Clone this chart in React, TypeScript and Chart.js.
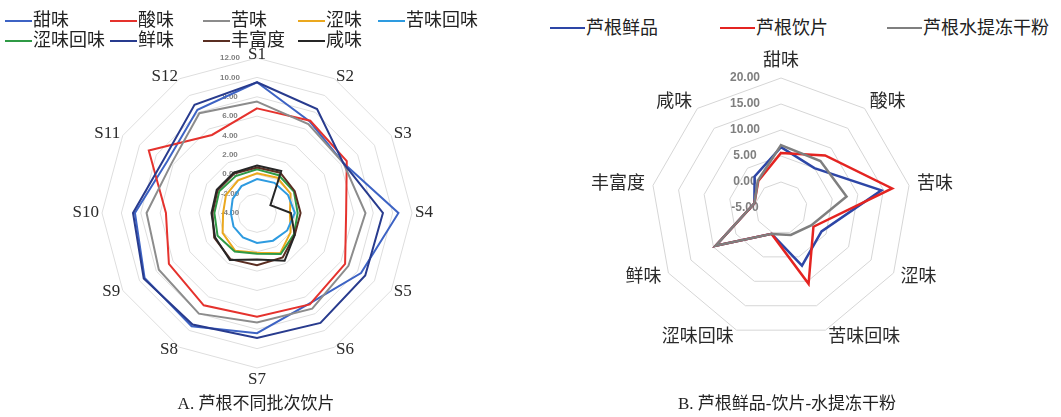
import React, { useEffect, useRef } from 'react';
import { Chart, registerables } from 'chart.js';

Chart.register(...registerables);

// ---------- Panel A: 芦根不同批次饮片 ----------
const batches = ['S1', 'S2', 'S3', 'S4', 'S5', 'S6', 'S7', 'S8', 'S9', 'S10', 'S11', 'S12'];
const tasteNames = ['甜味', '酸味', '苦味', '涩味', '苦味回味', '涩味回味', '鲜味', '丰富度', '咸味'];
const sweetA = [9.5, 6.9, 6.3, 10.6, 8.4, 6.8, 8.4, 9.5, 9.4, 8.6, 6.7, 8.3];
const sourA = [6.8, 7.0, 6.7, 5.2, 6.5, 6.9, 6.7, 7.0, 6.5, 5.4, 8.9, 5.3];
const bitterA = [7.5, 6.6, 6.3, 7.2, 6.9, 7.4, 7.3, 8.0, 7.7, 7.4, 6.2, 7.9];
const astringentA = [0.1, 0.2, 0.0, -0.6, 0.0, 0.8, 0.1, 0.5, 0.1, -0.5, -0.3, -0.1];
const bitterAfterA = [-0.5, -0.4, -0.3, -0.1, -0.4, -0.7, -0.9, -1.1, -1.2, -1.3, -1.1, -0.8];
const astringentAfterA = [0.5, 0.5, 0.4, 0.2, 0.4, 0.9, 0.2, 0.6, 0.7, 0.4, 0.5, 0.4];
const umamiA = [9.5, 8.4, 6.3, 9.0, 8.9, 9.1, 8.9, 9.3, 9.5, 8.8, 7.1, 8.9];
const richnessA = [0.7, 0.8, 0.5, 0.5, 0.5, 1.3, 1.4, 1.5, 1.1, 0.6, 0.7, 0.7];
const saltyA = [0.9, 1.0, -2.4, -0.5, 0.5, 1.7, 0.8, 1.6, 1.0, 0.7, 0.8, 0.8];
const ticksA = [-4, -2, 0, 2, 4, 6, 8, 10, 12];
const captionA = 'A. 芦根不同批次饮片';

// ---------- Panel B: 芦根鲜品-饮片-水提冻干粉 ----------
const tasteAxesB = ['甜味', '酸味', '苦味', '涩味', '苦味回味', '涩味回味', '鲜味', '丰富度', '咸味'];
const productNames = ['芦根鲜品', '芦根饮片', '芦根水提冻干粉'];
const freshB = [6.7, 5.0, 14.6, 4.0, 6.8, 0.3, 9.5, 0.2, 2.9];
const sliceB = [5.6, 8.2, 16.7, 2.2, 10.5, 0.3, 9.5, 0.2, 1.8];
const powderB = [7.1, 6.8, 7.8, 1.7, 0.5, 0.3, 9.5, 0.2, 1.9];
const ticksB = [-5, 0, 5, 10, 15, 20];
const captionB = 'B. 芦根鲜品-饮片-水提冻干粉';

// ---------- styles ----------
const seriesA = [sweetA, sourA, bitterA, astringentA, bitterAfterA, astringentAfterA, umamiA, richnessA, saltyA];
const colorsA = ['#3D63C4', '#E5322D', '#8C8C8C', '#EBA81E', '#2E9BE0', '#2F9A45', '#283B8E', '#5A2E22', '#262626'];
const seriesB = [freshB, sliceB, powderB];
const colorsB = ['#2D46A6', '#E42421', '#7F7F7F'];

const SERIF = "'Liberation Serif', 'Noto Sans CJK SC', serif";

// value-axis labels drawn to the left of the vertical axis (Excel style)
const sideTicks = {
  id: 'sideTicks',
  beforeDatasetsDraw(chart: any, _args: any, opts: any) {
    const s = chart.scales.r;
    const ctx = chart.ctx;
    ctx.save();
    ctx.font = opts.font;
    ctx.fillStyle = opts.color;
    ctx.textAlign = 'center';
    ctx.textBaseline = 'middle';
    (opts.values as number[]).forEach((v) => {
      const d = s.getDistanceFromCenterForValue(v);
      ctx.fillText(v.toFixed(2), s.xCenter + opts.dx, s.yCenter - d);
    });
    ctx.restore();
  },
};

// category labels placed Excel-like around the outer ring
const excelPointLabels = {
  id: 'excelPointLabels',
  beforeDatasetsDraw(chart: any, _args: any, opts: any) {
    const s = chart.scales.r;
    const ctx = chart.ctx;
    ctx.save();
    ctx.font = opts.font;
    ctx.fillStyle = opts.color;
    (chart.data.labels as string[]).forEach((lab, i) => {
      const p = s.getPointPosition(i, s.drawingArea + opts.offset);
      const dx = p.x - s.xCenter;
      const dy = p.y - s.yCenter;
      if (Math.abs(dx) < 1) {
        ctx.textAlign = 'center';
        ctx.textBaseline = dy < 0 ? opts.topBaseline : 'top';
      } else {
        ctx.textAlign = dx > 0 ? 'left' : 'right';
        ctx.textBaseline = 'middle';
      }
      ctx.fillText(lab, p.x, p.y);
    });
    ctx.restore();
  },
};

function radarConfig(
  labels: string[],
  names: string[],
  series: number[][],
  colors: string[],
  min: number,
  max: number,
  step: number,
  tickVals: number[],
  width: number,
  pad: any,
  labelFont: string,
  labelOffset: number,
  topBaseline: string,
  tickFont: string,
  tickDx: number,
  gridColor: string
): any {
  return {
    type: 'radar',
    data: {
      labels,
      datasets: series.map((d, i) => ({
        label: names[i],
        data: d,
        borderColor: colors[i],
        backgroundColor: colors[i],
        borderWidth: width,
        pointRadius: 0,
        pointHoverRadius: 0,
        fill: false,
        order: series.length - i,
      })),
    },
    options: {
      responsive: false,
      animation: false,
      devicePixelRatio: 1,
      layout: { padding: pad },
      elements: { line: { tension: 0, borderJoinStyle: 'miter' } },
      plugins: {
        legend: { display: false },
        tooltip: { enabled: false },
        sideTicks: { values: tickVals, font: tickFont, color: '#7F7F7F', dx: tickDx },
        excelPointLabels: { font: labelFont, color: '#2A2A2A', offset: labelOffset, topBaseline },
      },
      scales: {
        r: {
          min,
          max,
          ticks: { stepSize: step, display: false },
          grid: { color: gridColor, lineWidth: 1 },
          angleLines: { display: false },
          pointLabels: { display: false },
        },
      },
    },
    plugins: [sideTicks, excelPointLabels],
  };
}

export default function App() {
  const aRef = useRef<HTMLCanvasElement>(null);
  const bRef = useRef<HTMLCanvasElement>(null);

  useEffect(() => {
    document.body.style.margin = '0';
    const a = new Chart(
      aRef.current as HTMLCanvasElement,
      radarConfig(batches, tasteNames, seriesA, colorsA, -4, 12, 2, ticksA, 2,
        { left: 82, right: 88, top: 18, bottom: 48 },
        `17px ${SERIF}`, 3, 'middle', "bold 8px 'Liberation Sans'", -27, '#DEDEDE')
    );
    const b = new Chart(
      bRef.current as HTMLCanvasElement,
      radarConfig(tasteAxesB, productNames, seriesB, colorsB, -5, 20, 5, ticksB, 2.5,
        { left: 105, right: 105, top: 38, bottom: 78 },
        `18px ${SERIF}`, 8, 'bottom', "bold 12px 'Liberation Sans'", -36, '#D6D6D6')
    );
    return () => {
      a.destroy();
      b.destroy();
    };
  }, []);

  const legendLine = (c: string, w: number) => (
    <span style={{ display: 'inline-block', width: w, height: 2, background: c, verticalAlign: 'middle', marginRight: 1 }} />
  );

  return (
    <div style={{ position: 'relative', width: 1061, height: 417, background: '#fff', overflow: 'hidden', fontFamily: SERIF, color: '#222' }}>
      <canvas ref={aRef} width={480} height={376} style={{ position: 'absolute', left: 20, top: 40 }} />
      <canvas ref={bRef} width={470} height={376} style={{ position: 'absolute', left: 546, top: 40 }} />

      <div style={{ position: 'absolute', left: 5, top: 10, display: 'grid', gridTemplateColumns: '105px 93px 95px 80px auto', fontSize: 18, lineHeight: '19px', whiteSpace: 'nowrap' }}>
        {tasteNames.map((n, i) => (
          <div key={n}>{legendLine(colorsA[i], 27)}<span style={{ verticalAlign: 'middle' }}>{n}</span></div>
        ))}
      </div>

      <div style={{ position: 'absolute', left: 550, top: 16, display: 'grid', gridTemplateColumns: '170px 167px auto', fontSize: 18, lineHeight: '20px', whiteSpace: 'nowrap' }}>
        {productNames.map((n, i) => (
          <div key={n}>{legendLine(colorsB[i], 35)}<span style={{ verticalAlign: 'middle' }}>{n}</span></div>
        ))}
      </div>

      <div style={{ position: 'absolute', left: 56, width: 400, top: 394, textAlign: 'center', fontSize: 17, lineHeight: '20px' }}>{captionA}</div>
      <div style={{ position: 'absolute', left: 587, width: 400, top: 394, textAlign: 'center', fontSize: 17, lineHeight: '20px' }}>{captionB}</div>
    </div>
  );
}
